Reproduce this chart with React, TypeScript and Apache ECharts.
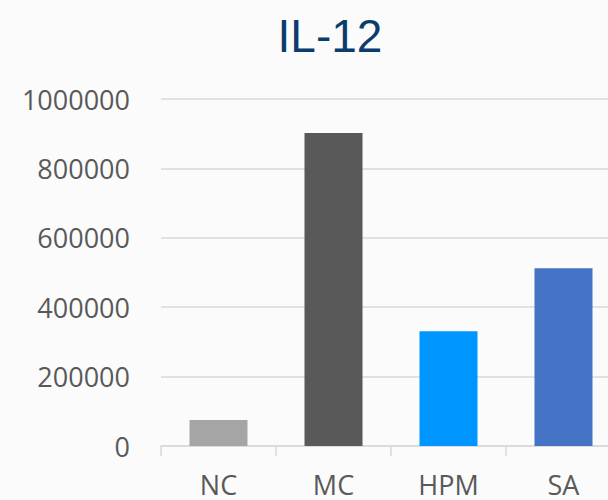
import React, { useEffect, useRef } from "react";
import * as echarts from "echarts";

const categories = ["NC", "MC", "HPM", "SA"];
const values = [75000, 902000, 331000, 512000];
const barColors = ["#A5A5A5", "#595959", "#0096FF", "#4472C4"];
const titleText = "IL-12";

export default function App() {
  const ref = useRef<HTMLDivElement>(null);
  useEffect(() => {
    if (!ref.current) return;
    const chart = echarts.init(ref.current, null, { renderer: "svg" });
    chart.setOption({
      animation: false,
      backgroundColor: "#FBFBFB",
      title: {
        text: titleText,
        left: 325,
        textAlign: "center",
        top: 8,
        textStyle: {
          fontFamily: "Liberation Sans",
          fontSize: 46,
          fontWeight: "normal",
          color: "#0B3C6E",
        },
      },
      grid: { left: 161, right: 4, top: 99, bottom: 54, containLabel: false },
      xAxis: {
        type: "category",
        data: categories,
        axisLine: { lineStyle: { color: "#D9D9D9", width: 1.5 } },
        axisTick: { show: true, length: 10, lineStyle: { color: "#D9D9D9", width: 1.5 } },
        axisLabel: {
          margin: 25,
          fontFamily: "Open Sans",
          fontSize: 27,
          color: "#595959",
        },
      },
      yAxis: {
        type: "value",
        min: 0,
        max: 1000000,
        interval: 200000,
        axisLine: { show: false },
        axisTick: { show: false },
        splitLine: { lineStyle: { color: "#D9D9D9", width: 1.5 } },
        axisLabel: {
          margin: 31,
          fontFamily: "Open Sans",
          fontSize: 27,
          color: "#595959",
          formatter: (v: number) => String(v),
        },
      },
      series: [
        {
          type: "bar",
          barWidth: 58,
          data: values.map((v, i) => ({ value: v, itemStyle: { color: barColors[i] } })),
        },
      ],
    });
    return () => chart.dispose();
  }, []);
  return (
    <div
      style={{ position: "fixed", left: 0, top: 0, width: 608, height: 500, overflow: "hidden" }}
    >
      <div ref={ref} style={{ width: 625, height: 500 }} />
    </div>
  );
}
